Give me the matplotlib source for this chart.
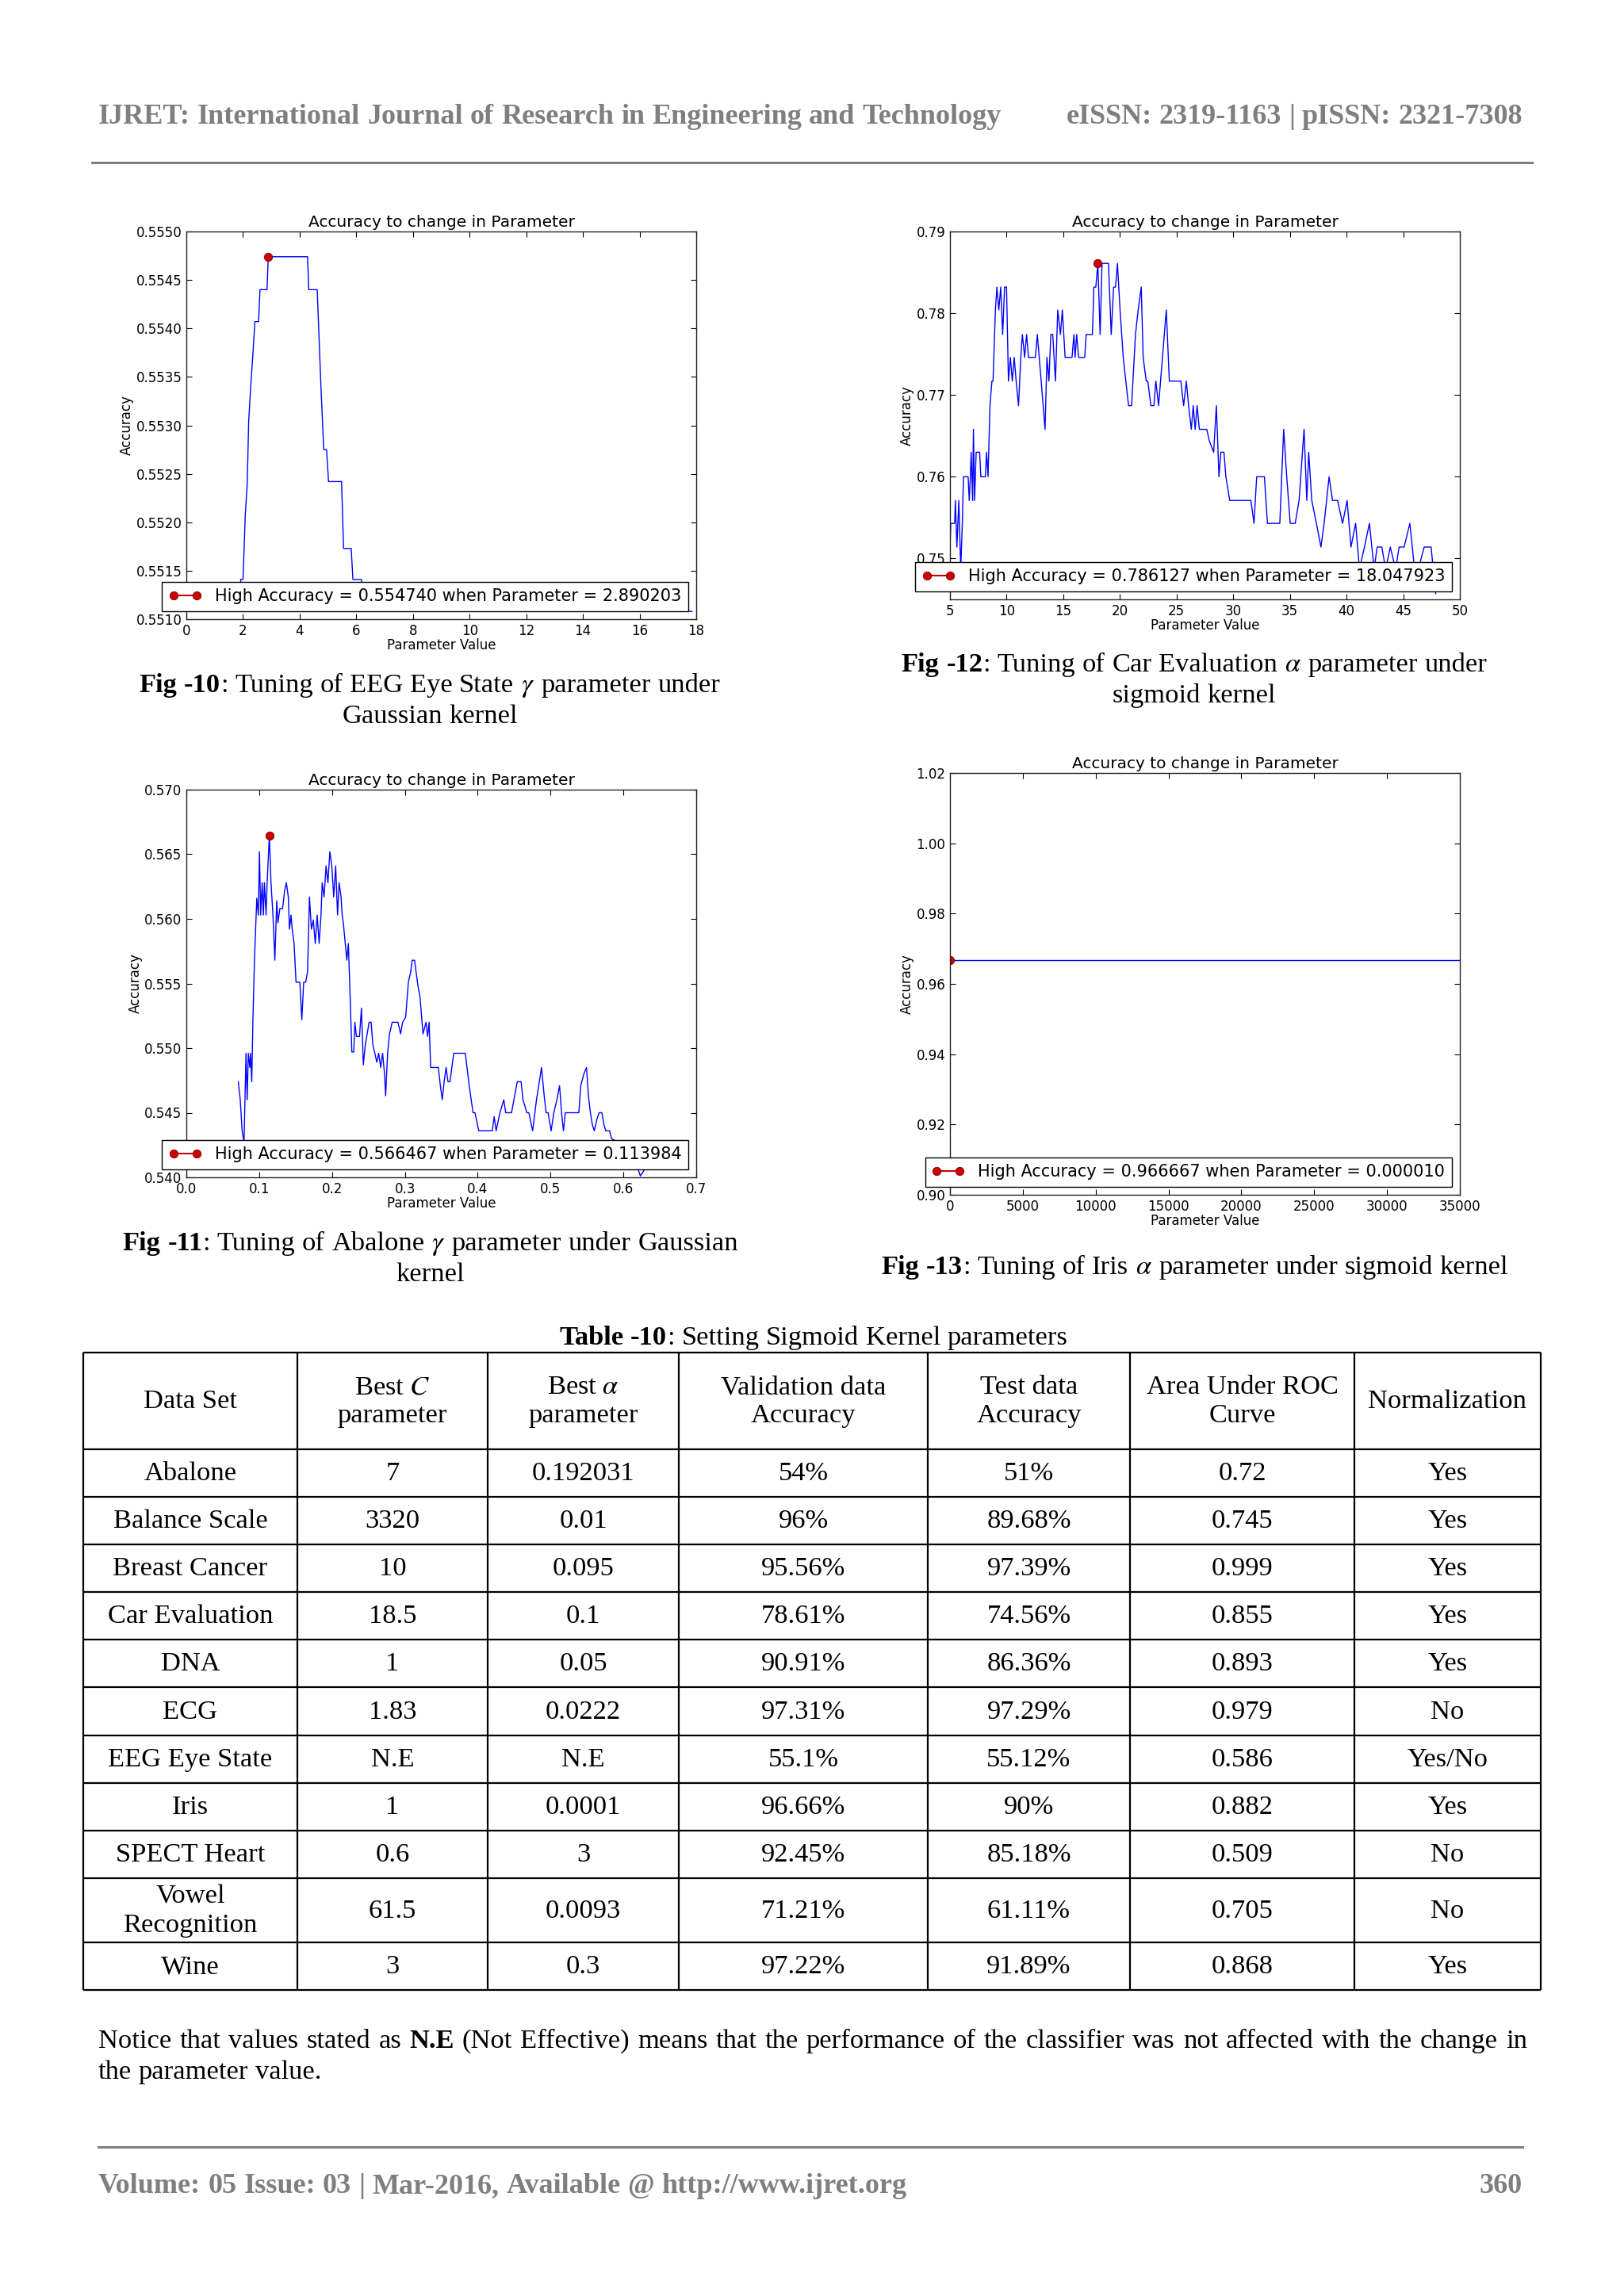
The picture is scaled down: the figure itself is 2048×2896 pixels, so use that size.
import matplotlib
matplotlib.use('Agg')
import matplotlib.pyplot as plt
from matplotlib.ticker import MultipleLocator, FormatStrFormatter

W, H, DPI = 2048, 2896, 100
SERIF = 'Liberation Serif'
BODY = 24.8
GREY = '#7f7f7f'

plt.rcParams['mathtext.fontset'] = 'stix'
plt.rcParams['font.family'] = 'DejaVu Sans'

# Fig -10: EEG Eye State, gamma (gaussian kernel)
eeg_gamma = [0.61, 1.90, 1.92, 2.00, 2.04, 2.08, 2.15, 2.20, 2.27, 2.35,
             2.42, 2.55, 2.60, 2.85, 2.89, 4.28, 4.32, 4.62, 4.75, 4.85,
             4.95, 5.02, 5.48, 5.55, 5.82, 5.88, 6.18, 6.25, 17.85]
eeg_acc = [0.55108, 0.55108, 0.55141, 0.55141, 0.55173, 0.55208, 0.55240, 0.55304, 0.55339, 0.55374,
           0.55407, 0.55407, 0.55440, 0.55440, 0.55474, 0.55474, 0.55440, 0.55440, 0.55341, 0.55275,
           0.55275, 0.55242, 0.55242, 0.55173, 0.55173, 0.55141, 0.55141, 0.55108, 0.55108]
eeg_best = (2.890203, 0.554740)

# Fig -12: Car Evaluation, alpha (sigmoid kernel)
car_alpha = [5.00, 5.07, 5.41, 5.48, 5.61, 5.78, 5.95, 6.09, 6.19, 6.60,
             6.70, 6.80, 6.87, 7.00, 7.07, 7.17, 7.31, 7.62, 7.72, 8.12,
             8.23, 8.36, 8.53, 8.70, 8.80, 8.87, 9.01, 9.14, 9.31, 9.48,
             9.65, 9.82, 9.99, 10.16, 10.33, 10.50, 10.67, 10.84, 11.05, 11.25,
             11.39, 11.59, 11.76, 11.93, 12.54, 12.71, 13.05, 13.39, 13.56, 13.73,
             13.90, 14.07, 14.31, 14.51, 14.75, 14.92, 15.16, 15.77, 15.94, 16.04,
             16.18, 16.35, 16.89, 17.02, 17.57, 17.70, 17.87, 18.05, 18.25, 18.42,
             18.99, 19.23, 19.44, 19.61, 19.78, 20.01, 20.29, 20.52, 20.76, 21.03,
             21.37, 21.61, 21.88, 22.05, 22.32, 22.46, 22.73, 23.00, 23.17, 23.41,
             23.75, 24.09, 24.36, 25.38, 25.62, 25.86, 26.06, 26.30, 26.47, 26.64,
             26.81, 27.01, 27.66, 27.89, 28.27, 28.51, 28.74, 28.91, 29.18, 29.35,
             29.69, 31.56, 31.83, 32.07, 32.75, 33.02, 34.11, 34.45, 34.72, 35.03,
             35.47, 35.81, 36.25, 36.49, 36.66, 36.93, 37.34, 37.74, 38.02, 38.46,
             38.76, 39.21, 39.65, 40.05, 40.39, 40.80, 41.14, 41.58, 42.02, 42.43,
             42.70, 43.11, 43.45, 43.86, 44.33, 44.64, 45.08, 45.59, 46.00, 46.34,
             46.85, 47.46, 47.87]
car_acc = [0.7514, 0.7543, 0.7543, 0.7571, 0.7514, 0.7571, 0.7487, 0.7543, 0.7600, 0.7600,
           0.7571, 0.7600, 0.7630, 0.7571, 0.7658, 0.7571, 0.7630, 0.7630, 0.7600, 0.7600,
           0.7630, 0.7600, 0.7687, 0.7717, 0.7717, 0.7746, 0.7804, 0.7832, 0.7804, 0.7832,
           0.7774, 0.7832, 0.7832, 0.7717, 0.7746, 0.7717, 0.7746, 0.7717, 0.7687, 0.7746,
           0.7774, 0.7746, 0.7774, 0.7746, 0.7746, 0.7774, 0.7717, 0.7658, 0.7746, 0.7717,
           0.7774, 0.7774, 0.7717, 0.7804, 0.7774, 0.7804, 0.7746, 0.7746, 0.7774, 0.7746,
           0.7774, 0.7746, 0.7746, 0.7774, 0.7774, 0.7832, 0.7832, 0.7861, 0.7774, 0.7861,
           0.7861, 0.7774, 0.7832, 0.7832, 0.7861, 0.7804, 0.7746, 0.7717, 0.7687, 0.7687,
           0.7774, 0.7804, 0.7832, 0.7746, 0.7717, 0.7717, 0.7687, 0.7687, 0.7717, 0.7687,
           0.7746, 0.7804, 0.7717, 0.7717, 0.7687, 0.7717, 0.7687, 0.7658, 0.7687, 0.7658,
           0.7687, 0.7658, 0.7658, 0.7644, 0.7630, 0.7687, 0.7600, 0.7630, 0.7630, 0.7600,
           0.7571, 0.7571, 0.7543, 0.7600, 0.7600, 0.7543, 0.7543, 0.7658, 0.7600, 0.7543,
           0.7543, 0.7571, 0.7658, 0.7571, 0.7630, 0.7571, 0.7543, 0.7514, 0.7543, 0.7600,
           0.7571, 0.7571, 0.7543, 0.7571, 0.7514, 0.7543, 0.7487, 0.7514, 0.7543, 0.7487,
           0.7514, 0.7514, 0.7487, 0.7514, 0.7487, 0.7514, 0.7514, 0.7543, 0.7487, 0.7487,
           0.7514, 0.7514, 0.7457]
car_best = (18.047923, 0.786127)

# Fig -11: Abalone, gamma (gaussian kernel)
abalone_gamma = [0.0713, 0.0740, 0.0766, 0.0792, 0.0819, 0.0835, 0.0851, 0.0872, 0.0882, 0.0898,
                 0.0914, 0.0935, 0.0951, 0.0967, 0.0988, 0.1004, 0.1020, 0.1041, 0.1057, 0.1072,
                 0.1094, 0.1109, 0.1140, 0.1162, 0.1189, 0.1215, 0.1241, 0.1257, 0.1284, 0.1321,
                 0.1347, 0.1373, 0.1400, 0.1416, 0.1437, 0.1453, 0.1479, 0.1506, 0.1558, 0.1585,
                 0.1611, 0.1638, 0.1664, 0.1690, 0.1717, 0.1743, 0.1770, 0.1796, 0.1823, 0.1849,
                 0.1865, 0.1891, 0.1918, 0.1944, 0.1970, 0.1997, 0.2023, 0.2050, 0.2076, 0.2097,
                 0.2124, 0.2139, 0.2155, 0.2182, 0.2203, 0.2224, 0.2245, 0.2272, 0.2298, 0.2314,
                 0.2335, 0.2377, 0.2404, 0.2430, 0.2456, 0.2483, 0.2509, 0.2536, 0.2562, 0.2588,
                 0.2615, 0.2641, 0.2668, 0.2694, 0.2721, 0.2736, 0.2763, 0.2789, 0.2826, 0.2905,
                 0.2942, 0.2969, 0.3011, 0.3048, 0.3080, 0.3101, 0.3133, 0.3154, 0.3180, 0.3207,
                 0.3249, 0.3291, 0.3312, 0.3333, 0.3354, 0.3460, 0.3487, 0.3513, 0.3539, 0.3566,
                 0.3592, 0.3619, 0.3645, 0.3671, 0.3830, 0.3883, 0.3936, 0.3962, 0.4015, 0.4200,
                 0.4226, 0.4253, 0.4305, 0.4358, 0.4385, 0.4464, 0.4543, 0.4596, 0.4622, 0.4675,
                 0.4702, 0.4754, 0.4807, 0.4876, 0.4913, 0.4939, 0.4966, 0.5008, 0.5045, 0.5087,
                 0.5124, 0.5151, 0.5177, 0.5203, 0.5388, 0.5415, 0.5457, 0.5494, 0.5520, 0.5547,
                 0.5573, 0.5600, 0.5637, 0.5668, 0.5705, 0.5732, 0.5758, 0.5811, 0.5837, 0.5996,
                 0.6180, 0.6233, 0.6313]
abalone_acc = [0.5474, 0.5460, 0.5436, 0.5427, 0.5496, 0.5460, 0.5496, 0.5485, 0.5496, 0.5474,
               0.5522, 0.5568, 0.5592, 0.5616, 0.5603, 0.5652, 0.5603, 0.5628, 0.5603, 0.5628,
               0.5603, 0.5628, 0.56647, 0.5628, 0.5603, 0.5568, 0.5614, 0.5597, 0.5608, 0.5608,
               0.5621, 0.5628, 0.5617, 0.5592, 0.5603, 0.5592, 0.5581, 0.5551, 0.5551, 0.5522,
               0.5551, 0.5551, 0.5559, 0.5617, 0.5592, 0.5599, 0.5581, 0.5603, 0.5581, 0.5603,
               0.5628, 0.5617, 0.5641, 0.5628, 0.5652, 0.5641, 0.5617, 0.5641, 0.5603, 0.5628,
               0.5617, 0.5603, 0.5597, 0.5581, 0.5568, 0.5581, 0.5546, 0.5497, 0.5497, 0.5520,
               0.5509, 0.5509, 0.5531, 0.5487, 0.5502, 0.5511, 0.5520, 0.5520, 0.5502, 0.5496,
               0.5489, 0.5496, 0.5485, 0.5496, 0.5480, 0.5463, 0.5496, 0.5511, 0.5520, 0.5520,
               0.5511, 0.5520, 0.5524, 0.5551, 0.5559, 0.5568, 0.5568, 0.5559, 0.5548, 0.5540,
               0.5511, 0.5520, 0.5509, 0.5520, 0.5485, 0.5485, 0.5471, 0.5460, 0.5474, 0.5485,
               0.5474, 0.5474, 0.5485, 0.5496, 0.5496, 0.5471, 0.5450, 0.5450, 0.5436, 0.5436,
               0.5447, 0.5436, 0.5450, 0.5460, 0.5450, 0.5450, 0.5474, 0.5474, 0.5460, 0.5450,
               0.5450, 0.5436, 0.5460, 0.5485, 0.5463, 0.5450, 0.5450, 0.5436, 0.5450, 0.5460,
               0.5471, 0.5450, 0.5436, 0.5450, 0.5450, 0.5471, 0.5480, 0.5485, 0.5463, 0.5450,
               0.5441, 0.5436, 0.5445, 0.5450, 0.5450, 0.5441, 0.5436, 0.5436, 0.5430, 0.5425,
               0.5410, 0.5401, 0.5408]
abalone_best = (0.113984, 0.566467)

# Fig -13: Iris, alpha (sigmoid kernel) - flat
iris_alpha = [0.00001, 35000]
iris_acc = [0.966667, 0.966667]
iris_best = (0.000010, 0.966667)

# Table -10
table_head = ['Data Set', 'Best $C$\nparameter', 'Best $\\alpha$\nparameter',
              'Validation data\nAccuracy', 'Test data\nAccuracy', 'Area Under ROC\nCurve',
              'Normalization']
data_sets = ['Abalone', 'Balance Scale', 'Breast Cancer', 'Car Evaluation', 'DNA', 'ECG',
             'EEG Eye State', 'Iris', 'SPECT Heart', 'Vowel\nRecognition', 'Wine']
best_c = ['7', '3320', '10', '18.5', '1', '1.83', 'N.E', '1', '0.6', '61.5', '3']
best_alpha = ['0.192031', '0.01', '0.095', '0.1', '0.05', '0.0222', 'N.E', '0.0001', '3',
              '0.0093', '0.3']
val_acc = ['54%', '96%', '95.56%', '78.61%', '90.91%', '97.31%', '55.1%', '96.66%', '92.45%',
           '71.21%', '97.22%']
test_acc = ['51%', '89.68%', '97.39%', '74.56%', '86.36%', '97.29%', '55.12%', '90%', '85.18%',
            '61.11%', '91.89%']
auc = ['0.72', '0.745', '0.999', '0.855', '0.893', '0.979', '0.586', '0.882', '0.509', '0.705',
       '0.868']
normalization = ['Yes', 'Yes', 'Yes', 'Yes', 'Yes', 'No', 'Yes/No', 'Yes', 'No', 'No', 'Yes']

fig = plt.figure(figsize=(W / DPI, H / DPI), dpi=DPI)
page = fig.add_axes([0, 0, 1, 1])
page.set_xlim(0, W)
page.set_ylim(H, 0)
page.axis('off')
renderer = fig.canvas.get_renderer()


def rich_line(x, y, runs, ha='center', width=None, size=BODY, color='k'):
    # runs: (text, weight); spaces only at the start of a run
    tokens = []
    for text, weight in runs:
        for i, word in enumerate(text.split(' ')):
            if word:
                tokens.append((word, weight, i > 0))
    arts = [page.text(0, y, w, fontsize=size, fontweight=wt, family=SERIF,
                      color=color, va='baseline', ha='left')
            for w, wt, _ in tokens]
    widths = [a.get_window_extent(renderer).width for a in arts]
    gaps = sum(1 for t in tokens[1:] if t[2])
    space = 0.25 * size * DPI / 72
    if width is not None and gaps:
        space = (width - sum(widths)) / gaps
    total = sum(widths) + space * gaps
    if ha == 'center':
        x -= total / 2
    elif ha == 'right':
        x -= total
    for k, (a, w) in enumerate(zip(arts, widths)):
        if k and tokens[k][2]:
            x += space
        a.set_x(x)
        x += w


def panel(box, xs, ys, best, xlim, ylim, xstep, ystep, xfmt, yfmt):
    l, t, r, b = box
    ax = fig.add_axes([l / W, 1 - b / H, (r - l) / W, (b - t) / H])
    ax.plot(xs, ys, color='b', lw=1)
    ax.plot([best[0]], [best[1]], 'o-', color='#cc0000', mec='#7a0000', mew=0.6, ms=7.5,
            label='High Accuracy = %f when Parameter = %f' % (best[1], best[0]))
    ax.set_xlim(*xlim)
    ax.set_ylim(*ylim)
    ax.xaxis.set_major_locator(MultipleLocator(xstep))
    ax.yaxis.set_major_locator(MultipleLocator(ystep))
    ax.xaxis.set_major_formatter(FormatStrFormatter(xfmt))
    ax.yaxis.set_major_formatter(FormatStrFormatter(yfmt))
    ax.tick_params(direction='in', top=True, right=True, length=5, width=0.8,
                   labelsize=12, pad=4)
    for s in ax.spines.values():
        s.set_linewidth(1.0)
        s.set_color('#222222')
    ax.set_title('Accuracy to change in Parameter', fontsize=14.5, pad=4)
    ax.set_xlabel('Parameter Value', fontsize=12, labelpad=0)
    ax.set_ylabel('Accuracy', fontsize=12, labelpad=2)
    leg = ax.legend(loc='lower right', numpoints=2, fontsize=15, fancybox=False,
                    framealpha=1, borderaxespad=0.5, handlelength=2, handletextpad=0.8)
    leg.get_frame().set_edgecolor('k')
    leg.get_frame().set_linewidth(1.0)
    return ax


panel((235, 292, 878, 781), eeg_gamma, eeg_acc, eeg_best, (0, 18), (0.5510, 0.5550),
      2, 0.0005, '%d', '%.4f')
panel((1198, 292, 1841, 756), car_alpha, car_acc, car_best, (5, 50), (0.745, 0.79),
      5, 0.01, '%d', '%.2f')
panel((235, 996, 878, 1485), abalone_gamma, abalone_acc, abalone_best, (0, 0.7),
      (0.540, 0.570), 0.1, 0.005, '%.1f', '%.3f')
panel((1198, 975, 1841, 1507), iris_alpha, iris_acc, iris_best, (0, 35000), (0.90, 1.02),
      5000, 0.02, '%d', '%.2f')

# page header / footer
rich_line(124, 156, [('IJRET: International Journal of Research in Engineering and Technology', 'bold')],
          ha='left', size=26, color=GREY)
rich_line(1920, 156, [('eISSN: 2319-1163 | pISSN: 2321-7308', 'bold')],
          ha='right', size=26, color=GREY)
page.plot([116, 1932], [205, 205], color=GREY, lw=2.2)
page.plot([124, 1920], [2708, 2708], color=GREY, lw=2.2)
rich_line(124, 2766, [('Volume: 05 Issue: 03 | Mar-2016, Available @ http://www.ijret.org', 'bold')],
          ha='left', size=26, color=GREY)
rich_line(1920, 2766, [('360', 'bold')], ha='right', size=26, color=GREY)

# captions
rich_line(542, 873, [('Fig -10', 'bold'), (': Tuning of EEG Eye State', 'normal'),
                     (' $\\gamma$', 'normal'), (' parameter under', 'normal')])
rich_line(542, 912, [('Gaussian kernel', 'normal')])
rich_line(1506, 847, [('Fig -12', 'bold'), (': Tuning of Car Evaluation', 'normal'),
                      (' $\\alpha$', 'normal'), (' parameter under', 'normal')])
rich_line(1506, 886, [('sigmoid kernel', 'normal')])
rich_line(543, 1577, [('Fig -11', 'bold'), (': Tuning of Abalone', 'normal'),
                      (' $\\gamma$', 'normal'), (' parameter under Gaussian', 'normal')])
rich_line(543, 1616, [('kernel', 'normal')])
rich_line(1507, 1607, [('Fig -13', 'bold'), (': Tuning of Iris', 'normal'),
                       (' $\\alpha$', 'normal'), (' parameter under sigmoid kernel', 'normal')])

# table
rich_line(1026, 1696, [('Table -10', 'bold'), (': Setting Sigmoid Kernel parameters', 'normal')])
col_edges = [105, 375, 615, 856, 1170, 1425, 1708, 1943]
row_edges = [1706, 1828, 1888, 1948, 2008, 2068, 2128, 2189, 2249, 2309, 2369, 2450, 2510]
page.hlines(row_edges, col_edges[0], col_edges[-1], color='k', lw=1.6)
page.vlines(col_edges, row_edges[0], row_edges[-1], color='k', lw=1.6)
cols = [data_sets, best_c, best_alpha, val_acc, test_acc, auc, normalization]
for j, head in enumerate(table_head):
    cx = (col_edges[j] + col_edges[j + 1]) / 2
    cy = (row_edges[0] + row_edges[1]) / 2
    page.text(cx, cy + 1, head, fontsize=BODY, family=SERIF, ha='center', va='center',
              linespacing=1.25)
    for i, val in enumerate(cols[j]):
        cy = (row_edges[i + 1] + row_edges[i + 2]) / 2
        page.text(cx, cy + 1, val, fontsize=BODY, family=SERIF, ha='center', va='center',
                  linespacing=1.25)

# note
rich_line(124, 2583, [('Notice that values stated as', 'normal'), (' N.E', 'bold'),
                      (' (Not Effective) means that the performance of the classifier was not affected with the change in', 'normal')],
          ha='left', width=1802)
rich_line(124, 2622, [('the parameter value.', 'normal')], ha='left')

fig.savefig('out.png', dpi=DPI)
